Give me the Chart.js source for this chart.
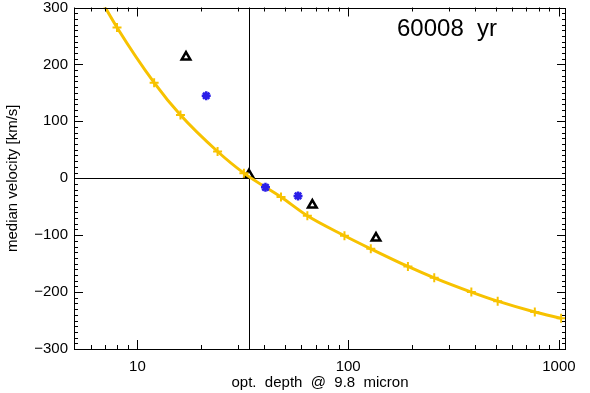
<!DOCTYPE html>
<html>
<head>
<meta charset="utf-8">
<title>median velocity</title>
<script src="https://cdn.jsdelivr.net/npm/chart.js@4"></script>
<style>
  html,body{margin:0;padding:0;background:#fff;}
  #wrap{width:590px;height:393px;position:relative;}
</style>
</head>
<body>
<div id="wrap"><canvas id="velChart" width="590" height="393"></canvas></div>
<script>
(function(){
  // --- data ---
  const curveDepth = [6, 8, 12, 16, 24, 32, 48, 64, 96, 128, 192, 256, 384, 512, 768, 1024];
  const curveVel   = [345, 265, 168, 111, 47, 9, -33, -66, -101, -124, -155, -175, -200, -216, -235, -246];
  const starDepth  = [21.2, 40.5, 57.8];
  const starVel    = [145, -16, -31];
  const triDepth   = [17, 33.8, 67.6, 135.5];
  const triVel     = [213, 6, -47, -105];
  const xTickLabels = [10, 100, 1000];
  const yTickLabels = [-300, -200, -100, 0, 100, 200, 300];
  const refDepth = 34;        // vertical marker line
  const titleText = '60008  yr';

  const xMin = 5, xMax = 1080, yMin = -300, yMax = 300;
  const yellow = '#f7c200';
  const blue = '#2a1ee8';
  const fontFam = '"Liberation Sans", Arial, Helvetica, sans-serif';

  const pts = (xs, ys) => xs.map((x,i)=>({x, y: ys[i]}));

  // zero line + reference line, under the data
  const refLines = {
    id: 'refLines',
    beforeDatasetsDraw(chart){
      const {ctx, chartArea:a, scales:{x, y}} = chart;
      ctx.save();
      ctx.strokeStyle = '#000'; ctx.lineWidth = 1;
      ctx.beginPath();
      const py = Math.round(y.getPixelForValue(0))+0.5;
      ctx.moveTo(a.left, py); ctx.lineTo(a.right, py);
      const px = Math.round(x.getPixelForValue(refDepth))+0.5;
      ctx.moveTo(px, a.top); ctx.lineTo(px, a.bottom);
      ctx.stroke();
      ctx.restore();
    }
  };

  // inward ticks on all four sides + caption, like the IDL plot
  const boxTicks = {
    id: 'boxTicks',
    afterDatasetsDraw(chart){
      const {ctx, chartArea:a, scales:{x, y}} = chart;
      ctx.save();
      ctx.strokeStyle = '#000'; ctx.lineWidth = 1;
      ctx.strokeRect(Math.round(a.left)+0.5, Math.round(a.top)+0.5, Math.round(a.right-a.left)-1, Math.round(a.bottom-a.top)-1);
      ctx.beginPath();
      // y: minor every 10, major every 100
      for(let v=yMin; v<=yMax; v+=10){
        const py = Math.round(y.getPixelForValue(v))+0.5;
        const len = (v % 100 === 0) ? 9 : 4;
        ctx.moveTo(a.left, py); ctx.lineTo(a.left+len, py);
        ctx.moveTo(a.right, py); ctx.lineTo(a.right-len, py);
      }
      // x: log minors
      for(let dec=1; dec<=1000; dec*=10){
        for(let m=1; m<10; m++){
          const v = m*dec;
          if(v < xMin || v > xMax) continue;
          const px = Math.round(x.getPixelForValue(v))+0.5;
          const len = (m === 1) ? 9 : 4;
          ctx.moveTo(px, a.bottom); ctx.lineTo(px, a.bottom-len);
          ctx.moveTo(px, a.top); ctx.lineTo(px, a.top+len);
        }
      }
      ctx.stroke();
      ctx.fillStyle = '#000';
      ctx.font = '24px ' + fontFam;
      ctx.textAlign = 'left'; ctx.textBaseline = 'middle';
      ctx.fillText(titleText, 397, 29);
      ctx.restore();
    }
  };

  const ctx = document.getElementById('velChart').getContext('2d');
  new Chart(ctx, {
    type: 'scatter',
    data: {
      datasets: [
        { label: 'triangles', data: pts(triDepth, triVel), pointStyle: 'triangle', pointRadius: 5,
          pointBorderColor: '#000', pointBackgroundColor: '#fff', pointBorderWidth: 2.5, order: 4 },
        { label: 'model', data: pts(curveDepth, curveVel), showLine: true, borderColor: yellow, backgroundColor: yellow, borderWidth: 3,
          cubicInterpolationMode: 'monotone', pointStyle: 'cross', pointRadius: 4.5, pointBorderWidth: 2, pointBorderColor: yellow, order: 3 },
        { label: 'stars', data: pts(starDepth, starVel), pointStyle: 'star', pointRadius: 4.5,
          pointBorderColor: blue, pointBackgroundColor: blue, pointBorderWidth: 2.5, order: 1 }
      ]
    },
    options: {
      responsive: false,
      animation: false,
      layout: { padding: { top: 7, right: 24, left: 0, bottom: 0 } },
      plugins: { legend: { display: false }, tooltip: { enabled: false } },
      scales: {
        x: {
          type: 'logarithmic', min: xMin, max: xMax,
          grid: { display: false, drawTicks: false },
          border: { display: false },
          afterFit: s => { s.height = 44; s.paddingLeft = 0; s.paddingRight = 0; },
          afterBuildTicks: s => { s.ticks = xTickLabels.map(v=>({value:v})); },
          ticks: { autoSkip: false, maxRotation: 0, padding: 9, color: '#000', font: { family: fontFam, size: 15 },
                   callback: v => String(v) },
          title: { display: true, text: 'opt.  depth  @  9.8  micron', color: '#000', font: { family: fontFam, size: 15 }, padding: { top: 0, bottom: 1 } }
        },
        y: {
          min: yMin, max: yMax,
          grid: { display: false, drawTicks: false },
          border: { display: false },
          afterFit: s => { s.width = 74; s.paddingTop = 0; s.paddingBottom = 0; },
          afterBuildTicks: s => { s.ticks = yTickLabels.map(v=>({value:v})); },
          ticks: { padding: 6, color: '#000', font: { family: fontFam, size: 15 },
                   callback: v => String(v).replace('-', '\u2212') },
          title: { display: true, text: 'median velocity [km/s]', color: '#000', font: { family: fontFam, size: 15 }, padding: { top: 4, bottom: 0 } }
        }
      }
    },
    plugins: [refLines, boxTicks]
  });
})();
</script>
</body>
</html>
